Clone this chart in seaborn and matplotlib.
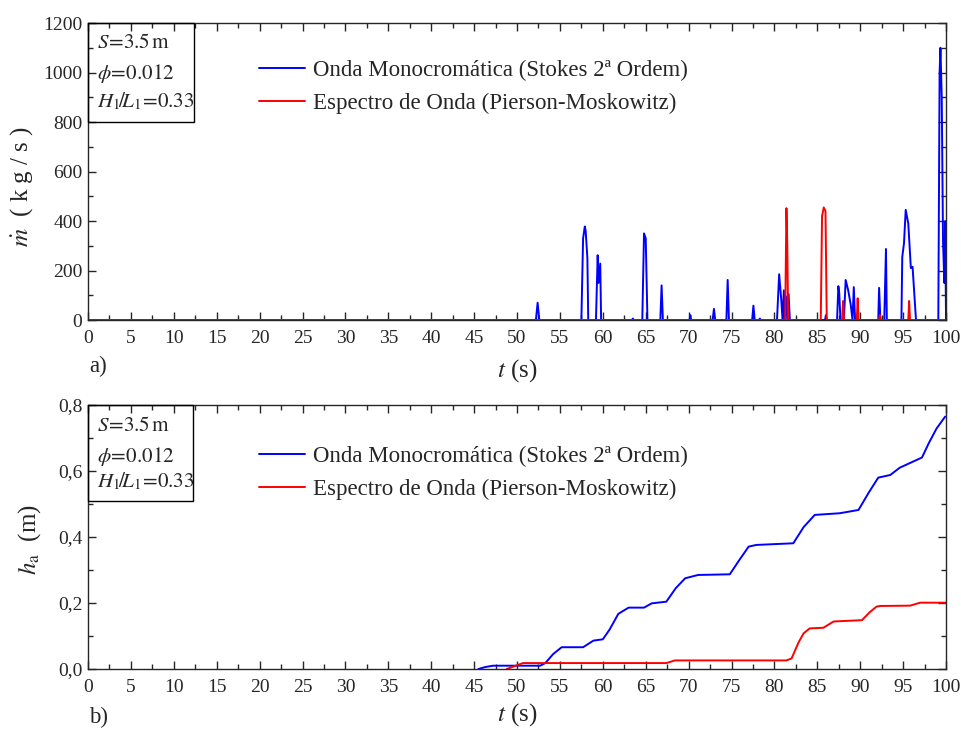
import matplotlib
matplotlib.use("Agg")
import matplotlib.pyplot as plt
import matplotlib.ticker as mticker
from matplotlib.patches import Rectangle
import seaborn as sns
import pandas as pd

# ---------------- data ----------------
legend_labels = ["Onda Monocromática (Stokes 2ª Ordem)", "Espectro de Onda (Pierson-Moskowitz)"]

# panel a) mass flow rate (kg/s)
mono_t = [0, 52.2, 52.4, 52.6, 57.5, 57.7, 57.9, 58.0, 58.2, 58.3, 59.2, 59.4, 59.5, 59.7, 59.8,
          63.4, 63.5, 63.6, 64.6, 64.8, 65.0, 65.2, 66.7, 66.85, 67.0, 70.1, 70.2, 70.3,
          72.8, 72.95, 73.1, 74.4, 74.55, 74.7, 77.4, 77.55, 77.7, 78.2, 78.3, 78.4,
          80.3, 80.55, 80.8, 80.95, 81.1, 81.2, 81.35, 81.5, 81.65, 81.8,
          85.9, 86.0, 86.1, 87.3, 87.45, 87.55, 87.7, 88.1, 88.3, 88.6, 88.9, 89.1, 89.25, 89.4,
          92.1, 92.2, 92.35, 92.8, 93.0, 93.1, 94.8, 94.9, 95.1, 95.3, 95.6, 95.9, 96.1, 96.5,
          99.1, 99.25, 99.35, 99.5, 99.65, 99.8, 99.9, 100]
mono_m = [0, 0, 70, 0, 0, 330, 378, 360, 250, 0, 0, 262, 150, 228, 0,
          0, 6, 0, 0, 350, 330, 0, 0, 140, 0, 0, 20, 0,
          0, 45, 0, 0, 162, 0, 0, 58, 0, 0, 6, 0,
          0, 185, 80, 0, 120, 0, 95, 0, 105, 0,
          0, 20, 0, 0, 137, 110, 0, 0, 162, 120, 60, 0, 133, 0,
          0, 130, 0, 0, 287, 0, 0, 255, 310, 445, 390, 210, 215, 0,
          0, 1000, 1100, 900, 320, 150, 400, 0]

spec_t = [0, 81.25, 81.4, 81.5, 81.6, 85.4, 85.55, 85.75, 85.95, 86.1,
          87.9, 88.0, 88.1, 89.6, 89.7, 89.8, 92.2, 92.3, 92.4, 95.6, 95.7, 95.8, 100]
spec_m = [0, 0, 452, 300, 0, 0, 420, 455, 440, 0,
          0, 77, 0, 0, 88, 0, 0, 20, 0, 0, 77, 0, 0]

# panel b) accumulated height (m)
mono_ht = [45.5, 46.3, 47.2, 52.7, 53.3, 54.2, 55.2, 57.7, 58.9, 60.0, 60.8, 61.8, 63.0, 64.8,
           65.7, 67.4, 68.5, 69.6, 71.1, 74.8, 75.9, 77.0, 77.9, 82.2, 83.4, 84.7, 87.6, 89.8,
           91.0, 92.1, 93.5, 94.6, 97.2, 98.0, 98.9, 99.9]
mono_h = [0.0, 0.006, 0.010, 0.010, 0.018, 0.045, 0.066, 0.066, 0.086, 0.090, 0.120, 0.167,
          0.186, 0.186, 0.199, 0.204, 0.245, 0.275, 0.285, 0.287, 0.330, 0.371, 0.376, 0.381,
          0.430, 0.467, 0.472, 0.482, 0.535, 0.580, 0.588, 0.610, 0.641, 0.685, 0.729, 0.765]

spec_ht = [48.8, 50.7, 67.4, 68.4, 81.4, 82.0, 82.8, 83.4, 84.1, 85.7, 86.9, 90.2, 91.1, 91.9,
           92.3, 95.8, 97.0, 100]
spec_h = [0.0, 0.018, 0.018, 0.026, 0.026, 0.032, 0.080, 0.108, 0.123, 0.125, 0.144, 0.148,
          0.172, 0.189, 0.191, 0.192, 0.201, 0.201]

# ---------------- style ----------------
sns.set_style("ticks")
plt.rcParams["font.family"] = ["Liberation Serif", "DejaVu Serif"]
plt.rcParams["mathtext.fontset"] = "stix"
plt.rcParams["axes.linewidth"] = 1.0

BLUE = "#0000ff"
RED = "#ff0000"
palette = {legend_labels[0]: BLUE, legend_labels[1]: RED}

df_a = pd.concat([
    pd.DataFrame({"t": mono_t, "v": mono_m, "serie": legend_labels[0]}),
    pd.DataFrame({"t": spec_t, "v": spec_m, "serie": legend_labels[1]}),
], ignore_index=True)
df_b = pd.concat([
    pd.DataFrame({"t": mono_ht, "v": mono_h, "serie": legend_labels[0]}),
    pd.DataFrame({"t": spec_ht, "v": spec_h, "serie": legend_labels[1]}),
], ignore_index=True)

fig = plt.figure(figsize=(9.62, 7.29), dpi=100)
ax1 = fig.add_axes([0.0915, 0.561, 0.8919, 0.4074])
ax2 = fig.add_axes([0.0915, 0.0823, 0.8919, 0.3621])

TICK_FS = 14
LEG_FS = 16.5
BOX_FS = 15.2
LAB_FS = 18
LW = 1.4

for ax, df, ly in ((ax1, df_a, 0.876), (ax2, df_b, 0.845)):
    sns.lineplot(data=df, x="t", y="v", hue="serie", palette=palette, estimator=None,
                 sort=False, linewidth=LW, ax=ax, legend=True)
    ax.set_xlim(0, 100)
    ax.xaxis.set_major_locator(mticker.MultipleLocator(5))
    ax.xaxis.set_minor_locator(mticker.MultipleLocator(2.5))
    ax.tick_params(which="both", direction="in", top=True, right=True, labelsize=TICK_FS,
                   width=1.0)
    ax.tick_params(axis="x", which="both", pad=7)
    ax.tick_params(axis="y", which="both", pad=4)
    ax.tick_params(which="major", length=6)
    ax.tick_params(which="minor", length=3.5)
    ax.set_xlabel(r"$t$ (s)", fontsize=LAB_FS)
    leg = ax.legend(loc="upper left", bbox_to_anchor=(0.199, ly), frameon=False,
                    fontsize=LEG_FS, handlelength=2.0, handletextpad=0.35, labelspacing=0.52,
                    borderaxespad=0, borderpad=0)
    for h in leg.get_lines():
        h.set_linewidth(LW)

ax1.set_ylim(0, 1200)
ax1.yaxis.set_major_locator(mticker.MultipleLocator(200))
ax1.yaxis.set_minor_locator(mticker.MultipleLocator(100))
ax1.set_ylabel(r"$\dot{m}$  ( k g / s )", fontsize=LAB_FS)
ax1.yaxis.set_label_coords(-0.062, 0.45)
ax1.xaxis.set_label_coords(0.5, -0.125)

ax2.set_ylim(0, 0.8)
ax2.yaxis.set_major_locator(mticker.MultipleLocator(0.2))
ax2.yaxis.set_minor_locator(mticker.MultipleLocator(0.1))
ax2.yaxis.set_major_formatter(mticker.FuncFormatter(lambda v, p: f"{v:.1f}".replace(".", ",")))
ax2.set_ylabel(r"$h_{\mathrm{a}}$  (m)", fontsize=LAB_FS)
ax2.yaxis.set_label_coords(-0.053, 0.49)
ax2.xaxis.set_label_coords(0.5, -0.122)

# parameter boxes
info = [r"$S\!=\!3.5\,\mathrm{m}$", r"$\phi\!=\!0.012$", r"$H_1\!/\!L_1\!=\!0.33$"]
for ax, (bw, bh), ys in ((ax1, (0.1235, 0.333), (0.930, 0.830, 0.735)),
                         (ax2, (0.1224, 0.364), (0.918, 0.806, 0.710))):
    ax.add_patch(Rectangle((0, 1 - bh), bw, bh, transform=ax.transAxes, fill=False,
                           edgecolor="black", linewidth=1.0, clip_on=False, zorder=5))
    for s, y in zip(info, ys):
        ax.text(0.011, y, s, transform=ax.transAxes, fontsize=BOX_FS, va="center", ha="left")

fig.text(0.093, 0.497, "a)", fontsize=LEG_FS, va="center", ha="left")
fig.text(0.093, 0.016, "b)", fontsize=LEG_FS, va="center", ha="left")

fig.savefig("out.png", dpi=100)
